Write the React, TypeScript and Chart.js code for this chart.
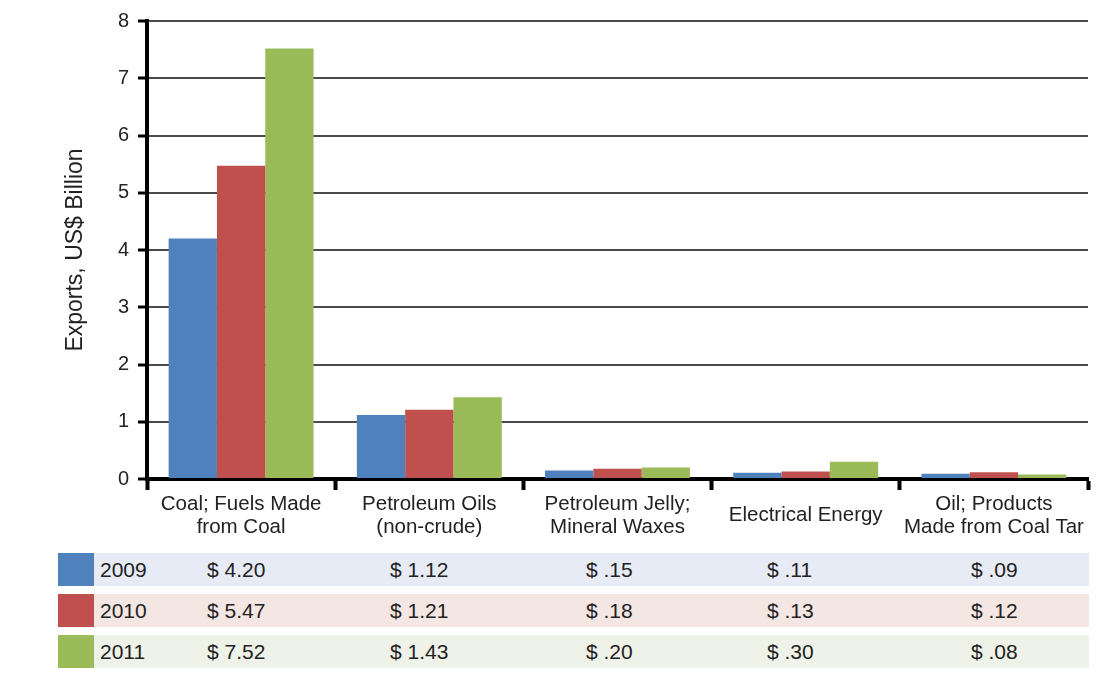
import React, { useEffect, useRef } from "react";
import { Chart, registerables } from "chart.js";

Chart.register(...registerables);

const categories: string[][] = [
  ["Coal; Fuels Made", "from Coal"],
  ["Petroleum Oils", "(non-crude)"],
  ["Petroleum Jelly;", "Mineral Waxes"],
  ["Electrical Energy"],
  ["Oil; Products", "Made from Coal Tar"],
];
const years = ["2009", "2010", "2011"];
const values2009 = [4.2, 1.12, 0.15, 0.11, 0.09];
const values2010 = [5.47, 1.21, 0.18, 0.13, 0.12];
const values2011 = [7.52, 1.43, 0.2, 0.3, 0.08];
const yTicks = [0, 1, 2, 3, 4, 5, 6, 7, 8];

const seriesColors = ["#4F81BD", "#C0504D", "#9BBB59"];
const rowColors = ["#E7EBF5", "#F4E6E2", "#EFF2E8"];
const tableTextLeft = [207, 390, 586, 767, 971];
const FONT = '"Liberation Sans", Arial, sans-serif';

const fmt = (v: number) => {
  const s = v.toFixed(2);
  return "$ " + (v < 1 ? s.slice(1) : s);
};

export default function App() {
  const ref = useRef<HTMLCanvasElement | null>(null);

  useEffect(() => {
    if (!ref.current) return;
    const series = [values2009, values2010, values2011];
    const chart = new Chart(ref.current, {
      type: "bar",
      data: {
        labels: categories,
        datasets: series.map((vals, i) => ({
          label: years[i],
          data: vals,
          backgroundColor: seriesColors[i],
          borderWidth: 0,
          categoryPercentage: 0.77,
          barPercentage: 1,
        })),
      },
      options: {
        animation: false,
        responsive: true,
        maintainAspectRatio: false,
        layout: { padding: { top: 21, right: 13, left: 0, bottom: 0 } },
        plugins: {
          legend: { display: false },
          tooltip: { enabled: false },
        },
        scales: {
          x: {
            grid: {
              offset: true,
              drawOnChartArea: false,
              drawTicks: true,
              tickLength: 11,
              tickColor: "#000",
              tickWidth: 4,
            },
            border: { color: "#000", width: 4 },
            ticks: {
              font: { family: FONT, size: 20.5, lineHeight: 1.12 },
              color: "#222",
              padding: 14,
              maxRotation: 0,
              autoSkip: false,
              crossAlign: "center",
            },
            afterFit: (s: any) => {
              s.height = 66;
            },
          },
          y: {
            min: 0,
            max: 8,
            afterBuildTicks: (s: any) => {
              s.ticks = yTicks.map((v) => ({ value: v }));
            },
            grid: {
              color: "#4a4a4a",
              lineWidth: 2,
              tickLength: 9,
              tickColor: "#000",
              tickWidth: 3,
            },
            border: { color: "#000", width: 4 },
            ticks: {
              font: { family: FONT, size: 20 },
              color: "#222",
              padding: 9,
            },
            title: {
              display: true,
              text: "Exports, US$ Billion",
              font: { family: FONT, size: 23 },
              color: "#222",
              padding: { top: 62, bottom: 0 },
            },
            afterFit: (s: any) => {
              s.width = 147;
            },
          },
        },
      },
    });
    return () => chart.destroy();
  }, []);

  const series = [values2009, values2010, values2011];

  return (
    <div
      style={{
        position: "absolute",
        left: 0,
        top: 0,
        width: 1101,
        height: 676,
        background: "#fff",
        fontFamily: FONT,
      }}
    >
      <div style={{ position: "absolute", left: 0, top: 0, width: 1101, height: 545 }}>
        <canvas ref={ref} />
      </div>
      {series.map((vals, r) => (
        <div
          key={years[r]}
          style={{
            position: "absolute",
            left: 58,
            top: 553 + r * 41,
            width: 1031,
            height: 33,
            fontSize: 21,
            lineHeight: "33px",
            color: "#222",
          }}
        >
          <div style={{ position: "absolute", left: 0, top: 0, width: 36, height: 33, background: seriesColors[r] }} />
          <div
            style={{
              position: "absolute",
              left: 36,
              top: 0,
              width: 995,
              height: 33,
              background: rowColors[r],
            }}
          />
          <div style={{ position: "absolute", left: 42, top: 0 }}>{years[r]}</div>
          {vals.map((v, c) => (
            <div
              key={c}
              style={{
                position: "absolute",
                left: tableTextLeft[c] - 58,
                top: 0,
                whiteSpace: "nowrap",
              }}
            >
              {fmt(v)}
            </div>
          ))}
        </div>
      ))}
    </div>
  );
}
